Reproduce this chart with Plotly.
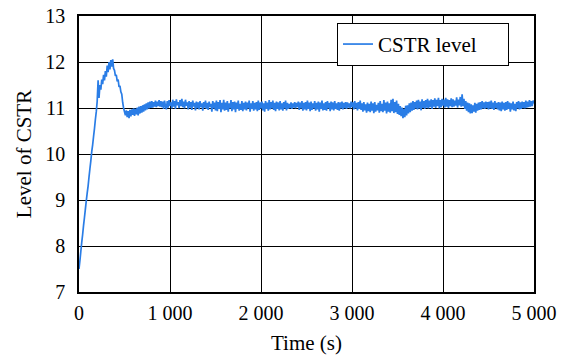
import plotly.graph_objects as go

step = 10
level = [
    7.50, 7.68, 7.88, 8.08, 8.25, 8.45, 8.62, 8.80, 8.98, 9.15,
    9.30, 9.50, 9.68, 9.85, 10.05, 10.20, 10.38, 10.55, 10.75, 10.92,
    11.15, 11.60, 11.22, 11.50, 11.40, 11.62, 11.52, 11.72, 11.60, 11.80,
    11.68, 11.92, 11.78, 12.00, 11.84, 12.04, 11.90, 12.06, 11.86, 11.82,
    11.70, 11.72, 11.58, 11.62, 11.46, 11.48, 11.35, 11.30, 11.12, 11.00,
    10.92, 10.84, 10.95, 10.80, 10.93, 10.78, 10.96, 10.82, 10.97, 10.85,
    10.99, 10.83, 10.98, 10.86, 11.01, 10.84, 11.03, 10.88, 11.04, 10.90,
    11.06, 10.92, 11.08, 10.95, 11.10, 10.97, 11.12, 10.99, 11.14, 11.00,
    11.15, 11.01, 11.13, 11.03, 11.16, 11.02, 11.14, 11.04, 11.17, 11.03, 11.15,
    11.02, 11.14, 10.98, 11.16, 11.04, 10.97, 11.15, 11.01, 11.17, 11.05,
    11.12, 10.99, 11.18, 11.03, 11.15, 10.98, 11.19, 11.06, 11.13, 11.00,
    11.17, 11.04, 11.20, 11.02, 11.14, 10.99, 11.18, 11.05, 11.12, 10.97,
    11.15, 11.01, 11.13, 10.96, 11.16, 11.03, 11.11, 10.95, 11.14, 11.00,
    11.12, 10.97, 11.15, 11.02, 11.10, 10.94, 11.13, 11.01, 11.16, 10.98,
    11.11, 10.96, 11.14, 11.03, 11.09, 10.92, 11.15, 10.99, 11.12, 10.95,
    11.16, 10.93, 11.13, 10.98, 11.17, 10.91, 11.11, 10.97, 11.18, 10.94,
    11.12, 10.96, 11.15, 10.92, 11.10, 10.99, 11.17, 10.93, 11.13, 10.97,
    11.14, 10.91, 11.12, 10.98, 11.16, 10.94, 11.09, 10.96, 11.15, 10.93,
    11.11, 10.97, 11.14, 10.95, 11.12, 10.99, 11.16, 10.92, 11.10, 10.98,
    11.15, 10.94, 11.11, 10.97, 11.13, 10.93, 11.16, 10.96, 11.12, 10.99,
    11.14, 10.95, 11.10, 10.92, 11.15, 10.98, 11.12, 10.94, 11.17, 10.97,
    11.13, 10.99, 11.16, 10.96, 11.11, 10.93, 11.14, 10.98, 11.12, 10.95,
    11.15, 10.97, 11.10, 10.94, 11.13, 10.99, 11.16, 10.95, 11.11, 10.98,
    11.09, 11.00, 11.12, 10.98, 11.10, 11.01, 11.13, 10.99, 11.11, 11.02,
    11.14, 10.96, 11.12, 10.99, 11.15, 10.94, 11.11, 10.97, 11.13, 10.95,
    11.16, 10.98, 11.12, 10.93, 11.14, 10.96, 11.10, 10.99, 11.15, 10.94,
    11.11, 10.97, 11.14, 10.92, 11.12, 10.98, 11.16, 10.95, 11.10, 10.96,
    11.13, 10.94, 11.15, 10.99, 11.11, 10.93, 11.14, 10.97, 11.12, 10.95,
    11.15, 10.98, 11.10, 10.96, 11.13, 10.94, 11.12, 10.99, 11.14, 10.97,
    11.11, 11.00, 11.13, 10.98, 11.12, 11.01, 11.10, 10.99, 11.14, 11.02,
    11.12, 10.97, 11.15, 10.99, 11.11, 10.95, 11.13, 10.98, 11.16, 10.96,
    11.10, 10.92, 11.13, 10.95, 11.08, 10.90, 11.12, 10.93, 11.09, 10.91,
    11.14, 10.94, 11.10, 10.89, 11.13, 10.92, 11.07, 10.95, 11.11, 10.90,
    11.15, 10.93, 11.09, 10.91, 11.17, 10.94, 11.12, 10.88, 11.14, 10.92,
    11.10, 10.90, 11.18, 10.93, 11.20, 10.89, 11.13, 10.91, 11.16, 10.87,
    11.09, 10.85, 11.04, 10.82, 11.01, 10.78, 10.98, 10.80, 11.05, 10.84,
    11.06, 10.88, 11.10, 10.91, 11.12, 10.94, 11.15, 10.96, 11.13, 10.99,
    11.16, 10.97, 11.18, 10.99, 11.14, 10.95, 11.19, 11.00, 11.15, 10.98,
    11.17, 11.01, 11.20, 10.99, 11.16, 11.02, 11.19, 10.98, 11.17, 11.03,
    11.21, 11.00, 11.18, 11.04, 11.22, 10.99, 11.17, 11.02, 11.20, 11.05,
    11.18, 11.01, 11.22, 11.03, 11.19, 11.00, 11.17, 11.04, 11.21, 11.02,
    11.19, 11.03, 11.16, 11.05, 11.23, 11.01, 11.18, 11.06, 11.24, 11.03,
    11.30, 11.04, 11.20, 10.98, 11.15, 10.94, 11.12, 10.91, 11.10, 10.88,
    11.08, 10.89, 11.06, 10.92, 11.11, 10.90, 11.09, 10.94, 11.12, 10.96,
    11.13, 10.97, 11.15, 10.99, 11.12, 10.98, 11.14, 11.00, 11.13, 10.97,
    11.14, 10.99, 11.16, 10.98, 11.12, 10.96, 11.15, 11.00, 11.11, 10.97,
    11.13, 10.95, 11.12, 10.93, 11.14, 10.97, 11.11, 10.94, 11.13, 10.96,
    11.15, 10.98, 11.12, 10.92, 11.10, 10.97, 11.14, 10.95, 11.09, 10.93,
    11.13, 10.99, 11.15, 10.97, 11.12, 10.98, 11.14, 11.00, 11.13, 10.99,
    11.16, 11.01, 11.14, 11.02, 11.17, 11.03, 11.15, 11.04, 11.16, 11.10,
]
time = [i * step for i in range(len(level))]

x_tickvals = [0, 1000, 2000, 3000, 4000, 5000]
x_ticktext = ["0", "1 000", "2 000", "3 000", "4 000", "5 000"]
y_tickvals = [7, 8, 9, 10, 11, 12, 13]
series_name = "CSTR level"

font = "Liberation Serif"

fig = go.Figure()
fig.add_trace(go.Scatter(
    x=time, y=level, mode="lines", name=series_name + "\u00a0" * 5,
    line=dict(color="#2a7de6", width=1.7, simplify=False),
))

fig.update_layout(
    width=568, height=363,
    margin=dict(l=79, r=34, t=16, b=71),
    paper_bgcolor="white", plot_bgcolor="white",
    font=dict(family=font, size=20, color="black"),
    showlegend=True,
    legend=dict(
        x=0.567, y=0.975, xanchor="left", yanchor="top",
        bgcolor="white", bordercolor="black", borderwidth=1,
        font=dict(family=font, size=21, color="black"),
        itemwidth=30, tracegroupgap=0,
    ),
    xaxis=dict(
        range=[0, 5000], tickvals=x_tickvals, ticktext=x_ticktext,
        showgrid=True, gridcolor="black", gridwidth=1,
        showline=True, linecolor="black", linewidth=1.5, mirror=True,
        ticks="outside", ticklen=2, tickcolor="rgba(0,0,0,0)",
        zeroline=False, automargin=False,
        title=dict(text="Time (s)", standoff=13, font=dict(family=font, size=21)),
    ),
    yaxis=dict(
        range=[7, 13], tickvals=y_tickvals,
        showgrid=True, gridcolor="black", gridwidth=1,
        showline=True, linecolor="black", linewidth=1.5, mirror=True,
        ticks="outside", ticklen=8, tickcolor="rgba(0,0,0,0)",
        zeroline=False, automargin=False,
        title=dict(text="Level of CSTR", standoff=8, font=dict(family=font, size=21)),
    ),
)

fig.write_html("out.html")
